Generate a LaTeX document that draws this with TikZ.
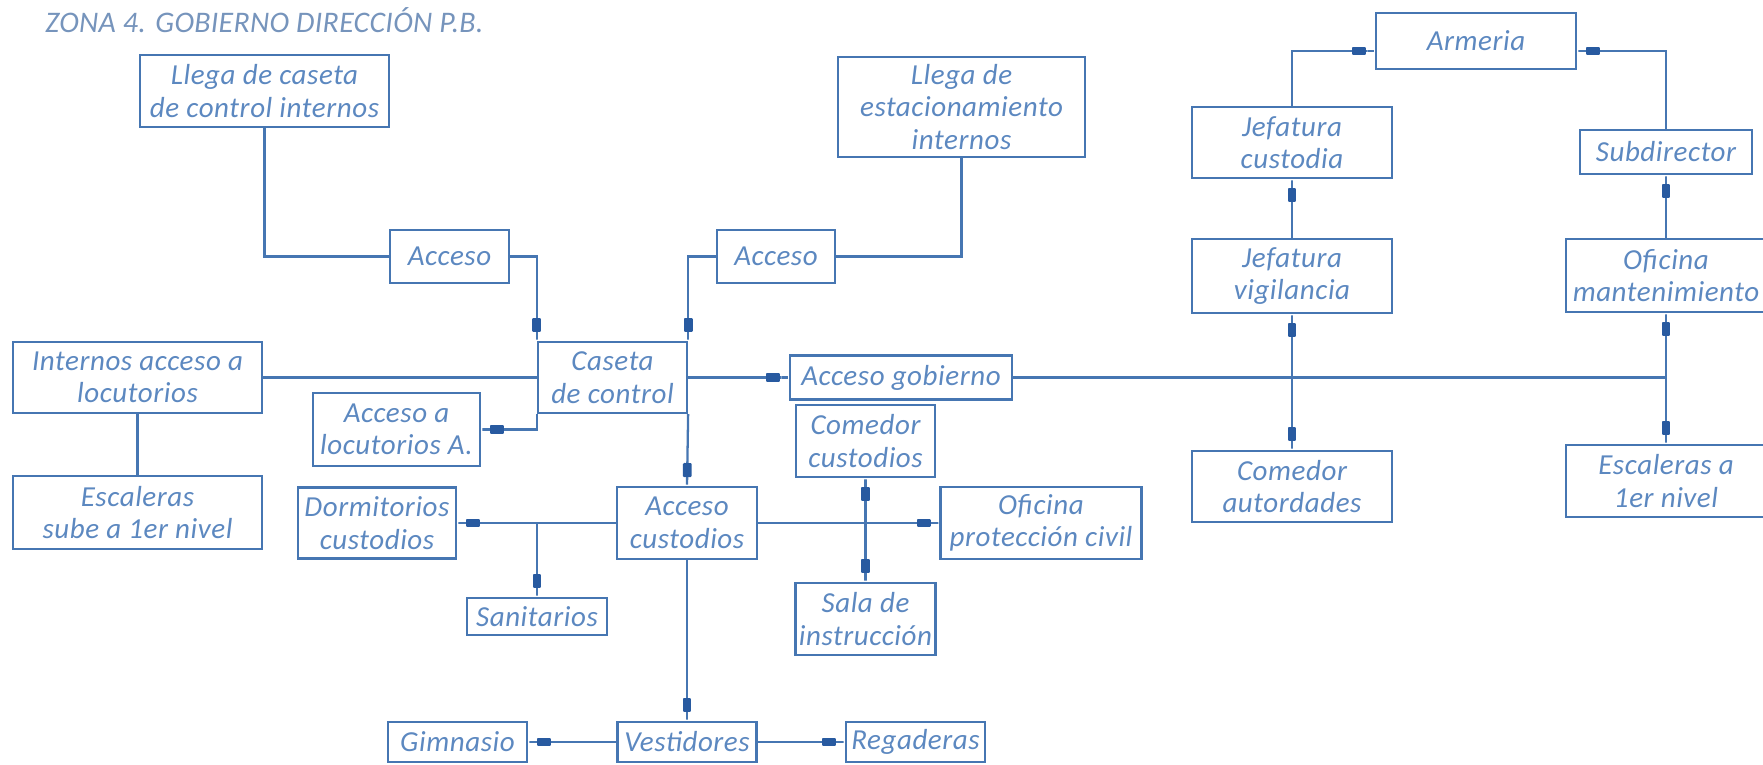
\documentclass[tikz,border=0pt]{standalone}
\usepackage{fontspec}
\setmainfont{Carlito}
\usepackage{xcolor}
\usepackage{tikz}
\usetikzlibrary{arrows.meta, positioning}

\definecolor{lineablue}{RGB}{70,118,178}
\definecolor{textoblue}{RGB}{92,136,192}
\definecolor{tituloblue}{RGB}{118,148,188}
\definecolor{puntablue}{RGB}{40,90,160}

\begin{document}
\begin{tikzpicture}[
		x=0.02cm, y=-0.02cm,
		% Estilos del diagrama
		area/.style={draw=lineablue, line width=1.3pt, text=textoblue, align=center, inner sep=0pt,
			font=\itshape\fontsize{16.5}{18.5}\selectfont\addfontfeature{LetterSpace=2}},
		dims/.style 2 args={minimum width=#1cm, minimum height=#2cm},
		enlace/.style={draw=lineablue, line width=1.3pt},
		flecha/.style={enlace, -{Rectangle[length=8pt, width=5pt, round, color=puntablue] Rectangle[length=5pt, width=1.3pt, color=lineablue]}},
		doble/.style={enlace, {Rectangle[length=5pt, width=1.3pt, color=lineablue] Rectangle[length=8pt, width=5pt, round, color=puntablue]}-{Rectangle[length=8pt, width=5pt, round, color=puntablue] Rectangle[length=5pt, width=1.3pt, color=lineablue]}},
		titulo/.style={text=tituloblue, font=\itshape\fontsize{17}{20}\selectfont\addfontfeature{LetterSpace=1}, inner sep=0pt}
	]
	\useasboundingbox (0,0) rectangle (1763,764);
	% Titulo
	\node[titulo, anchor=base west] (titulo) at (45,32) {ZONA 4. GOBIERNO DIRECCIÓN P.B.};
	% Llegadas y caseta de control
	\node[area, dims={4.98}{1.44}] (llegaCaseta) at (264.5,91) {Llega de caseta\\de control internos};
	\node[area, dims={2.38}{1.06}] (acceso1) at (449.5,256.5) {Acceso};
	\node[area, dims={4.94}{2.0}] (llegaEst) at (961.5,107) {Llega de\\estacionamiento\\internos};
	\node[area, dims={2.36}{1.06}] (acceso2) at (776,256.5) {Acceso};
	\node[area, dims={2.98}{1.42}] (caseta) at (612.5,377.5) {Caseta\\de control};
	\node[area, dims={4.98}{1.42}] (internos) at (137.5,377.5) {Internos acceso a\\locutorios};
	\node[area, dims={4.98}{1.46}] (escaleras1) at (137.5,512.5) {Escaleras\\sube a 1er nivel};
	\node[area, dims={3.34}{1.46}] (accLoc) at (396.5,429.5) {Acceso a\\locutorios A.};
	% Zona de custodios
	\node[area, dims={2.8}{1.44}] (accCust) at (687,523) {Acceso\\custodios};
	\node[area, dims={3.16}{1.42}] (dormitorios) at (377,523) {Dormitorios\\custodios};
	\node[area, dims={2.8}{0.74}] (sanitarios) at (537,616.5) {Sanitarios};
	\node[area, dims={2.78}{1.44}] (comCust) at (865.5,441) {Comedor\\custodios};
	\node[area, dims={2.8}{1.44}] (salaInst) at (865.5,619) {Sala de\\instrucción};
	\node[area, dims={4.02}{1.44}] (ofProt) at (1041,523) {Oficina\\protección civil};
	\node[area, dims={2.78}{0.8}] (vestidores) at (687,742) {Vestidores};
	\node[area, dims={2.78}{0.8}] (gimnasio) at (457.5,742) {Gimnasio};
	\node[area, dims={2.78}{0.8}] (regaderas) at (915.5,742) {Regaderas};
	% Zona de gobierno
	\node[area, dims={4.44}{0.88}] (accGob) at (901,377.5) {Acceso gobierno};
	\node[area, dims={4.0}{1.12}] (armeria) at (1476,41) {Armeria};
	\node[area, dims={4.0}{1.42}] (jefCust) at (1292,142.5) {Jefatura\\custodia};
	\node[area, dims={4.0}{1.48}] (jefVig) at (1292,276) {Jefatura\\vigilancia};
	\node[area, dims={4.0}{1.42}] (comAut) at (1292,486.5) {Comedor\\autordades};
	\node[area, dims={3.44}{0.88}] (subdir) at (1666,152) {Subdirector};
	\node[area, dims={4.0}{1.46}] (ofMant) at (1666,275.5) {Oficina\\mantenimiento};
	\node[area, dims={4.0}{1.44}] (esc2) at (1666,481) {Escaleras a\\1er nivel};
	% Puntos de ramificacion
	\coordinate (ramaSan) at (sanitarios.north |- accCust.west);
	\coordinate (finGob) at (accGob.east -| ofMant.south);
	% Flujos de entrada
	\draw[enlace] (llegaCaseta) |- (acceso1);
	\draw[flecha] (acceso1) -| (caseta.north west);
	\draw[enlace] (llegaEst) |- (acceso2);
	\draw[flecha] (acceso2) -| (caseta.north east);
	\draw[enlace] (internos) -- (caseta);
	\draw[enlace] (internos) -- (escaleras1);
	\draw[flecha] (caseta.south west) |- (accLoc);
	\draw[flecha] (caseta) -- (accGob);
	\draw[flecha] (caseta.south east) -- (accCust.north);
	% Flujos de custodios
	\draw[flecha] (accCust) -- (dormitorios);
	\draw[flecha] (ramaSan) -- (sanitarios);
	\draw[flecha] (accCust) -- (ofProt);
	\draw[doble] (comCust) -- (salaInst);
	\draw[flecha] (accCust) -- (vestidores);
	\draw[flecha] (vestidores) -- (gimnasio);
	\draw[flecha] (vestidores) -- (regaderas);
	% Flujos de gobierno
	\draw[enlace] (accGob) -- (finGob);
	\draw[doble] (jefVig) -- (comAut);
	\draw[doble] (ofMant) -- (esc2);
	\draw[flecha] (jefVig) -- (jefCust);
	\draw[flecha] (ofMant) -- (subdir);
	\draw[flecha] (jefCust) |- ([yshift=-0.2cm]armeria.west);
	\draw[flecha] (subdir) |- ([yshift=-0.2cm]armeria.east);
\end{tikzpicture}
\end{document}
